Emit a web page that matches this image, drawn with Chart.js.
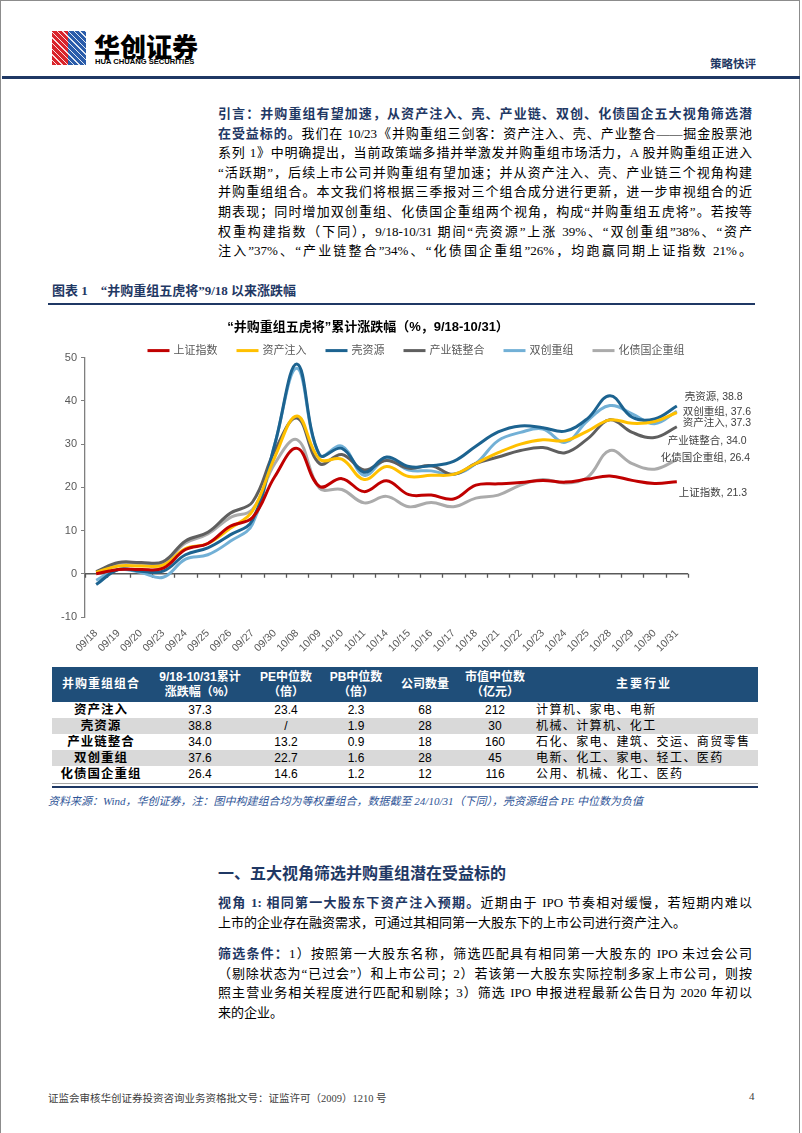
<!DOCTYPE html>
<html lang="zh-CN">
<head>
<meta charset="utf-8">
<script src="https://cdn.jsdelivr.net/npm/chart.js@4.4.1/dist/chart.umd.min.js"></script>
<style>
  html, body { margin: 0; padding: 0; }
  body { width: 802px; height: 1133px; position: relative; background: #fff; overflow: hidden;
         font-family: "Liberation Serif", "Noto Sans CJK SC", serif; color: #000; }
  .abs { position: absolute; }
  .frame { left: 0; top: 0; width: 800px; height: 1133px; border-left: 1px solid #8c8c8c; border-right: 1px solid #8c8c8c; border-top: 1px solid #8c8c8c; box-sizing: border-box; }
  .icon { left: 52px; top: 31px; width: 34px; height: 34px;
          background:
            repeating-linear-gradient(45deg, rgba(255,255,255,0) 0 3px, rgba(255,255,255,.85) 3px 4px),
            linear-gradient(to right, #d9232a 0 48%, #2a5caa 48% 100%); }
  .brand { left: 94px; top: 27px; font-family: "Noto Sans CJK SC", sans-serif; font-weight: 900; font-size: 26px; letter-spacing: 0px; }
  .brand-en { left: 95px; top: 57px; font-family: "Liberation Sans Narrow", "Liberation Sans", sans-serif; font-weight: bold; font-size: 7.6px; letter-spacing: 0px; }
  .tag { left: 710px; top: 55px; font-family: "Noto Sans CJK SC", sans-serif; font-weight: bold; font-size: 11.5px; color: #1f3864; }
  .rule { left: 2px; top: 76px; width: 798px; height: 3px; background: #1f3864; }
  .para { left: 218px; width: 534px; font-size: 13px; line-height: 19.6px; }
  .para div { text-align: justify; text-align-last: justify; white-space: nowrap; }
  .para div.last { text-align-last: left; }
  .para b { color: #1f3864; }
  .cap { left: 52px; top: 280px; font-size: 13px; font-weight: bold; color: #1f3864; }
  .caprule { left: 48px; top: 303px; width: 707px; height: 2px; background: #1f3864; }
  #chartBox { left: 48px; top: 312px; width: 720px; height: 345px; }
  table.t { left: 52px; top: 667px; width: 706px; border-collapse: collapse; table-layout: fixed;
            font-family: "Liberation Sans", "Noto Sans CJK SC", sans-serif; font-size: 12px; }
  table.t th { background: #1f4e79; color: #fff; font-weight: bold; height: 35px; line-height: 15px; padding: 0; text-align: center; }
  table.t td { height: 16px; line-height: 16px; padding: 0; text-align: center; }
  table.t tr.g td { background: #d9d9d9; }
  table.t td.n { font-weight: bold; letter-spacing: 1px; font-size: 12.5px; }
  table.t td.ind { text-align: left; padding-left: 6px; letter-spacing: 1.4px; }
  .tb1 { left: 52px; top: 783px; width: 706px; height: 1px; background: #a6a6a6; }
  .tb2 { left: 52px; top: 786px; width: 706px; height: 2px; background: #1f3864; }
  .src { left: 48px; top: 792px; font-size: 11px; font-style: italic; color: #2f5597; }
  .h1 { left: 218px; top: 860px; font-size: 16px; font-weight: bold; color: #1f3864; font-family: "Noto Sans CJK SC", sans-serif; }
  .foot { left: 48px; top: 1090px; font-size: 10.5px; color: #404040; }
  .pg { left: 749px; top: 1090px; font-size: 11px; color: #404040; }
</style>
</head>
<body>
<div class="abs frame"></div>
<div class="abs icon"></div>
<div class="abs brand">华创证券</div>
<div class="abs brand-en">HUA CHUANG SECURITIES</div>
<div class="abs tag">策略快评</div>
<div class="abs rule"></div>

<div class="abs para" style="top:104px">
  <div><b>引言：并购重组有望加速，从资产注入、壳、产业链、双创、化债国企五大视角筛选潜</b></div>
  <div><b>在受益标的。</b>我们在 10/23《并购重组三剑客：资产注入、壳、产业整合——掘金股票池</div>
  <div>系列 1》中明确提出，当前政策端多措并举激发并购重组市场活力，A 股并购重组正进入</div>
  <div>“活跃期”，后续上市公司并购重组有望加速；并从资产注入、壳、产业链三个视角构建</div>
  <div>并购重组组合。本文我们将根据三季报对三个组合成分进行更新，进一步审视组合的近</div>
  <div>期表现；同时增加双创重组、化债国企重组两个视角，构成“并购重组五虎将”。若按等</div>
  <div>权重构建指数（下同），9/18-10/31 期间“壳资源”上涨 39%、“双创重组”38%、“资产</div>
  <div>注入”37%、“产业链整合”34%、“化债国企重组”26%，均跑赢同期上证指数 21%。</div>
</div>

<div class="abs cap">图表 1&nbsp;&nbsp;&nbsp;&nbsp;“并购重组五虎将”9/18 以来涨跌幅</div>
<div class="abs caprule"></div>

<div class="abs" id="chartBox"><canvas id="myChart"></canvas></div>

<table class="abs t">
  <colgroup><col style="width:98px"><col style="width:100px"><col style="width:72px"><col style="width:68px"><col style="width:70px"><col style="width:70px"><col style="width:228px"></colgroup>
  <tr><th style="letter-spacing:1px">并购重组组合</th><th>9/18-10/31累计<br>涨跌幅（%）</th><th>PE中位数<br>（倍）</th><th>PB中位数<br>（倍）</th><th>公司数量</th><th>市值中位数<br>（亿元）</th><th style="letter-spacing:2px">主要行业</th></tr>
  <tr><td class="n">资产注入</td><td>37.3</td><td>23.4</td><td>2.3</td><td>68</td><td>212</td><td class="ind">计算机、家电、电新</td></tr>
  <tr class="g"><td class="n">壳资源</td><td>38.8</td><td>/</td><td>1.9</td><td>28</td><td>30</td><td class="ind">机械、计算机、化工</td></tr>
  <tr><td class="n">产业链整合</td><td>34.0</td><td>13.2</td><td>0.9</td><td>18</td><td>160</td><td class="ind">石化、家电、建筑、交运、商贸零售</td></tr>
  <tr class="g"><td class="n">双创重组</td><td>37.6</td><td>22.7</td><td>1.6</td><td>28</td><td>45</td><td class="ind">电新、化工、家电、轻工、医药</td></tr>
  <tr><td class="n">化债国企重组</td><td>26.4</td><td>14.6</td><td>1.2</td><td>12</td><td>116</td><td class="ind">公用、机械、化工、医药</td></tr>
</table>
<div class="abs tb1"></div>
<div class="abs tb2"></div>
<div class="abs src">资料来源：Wind，华创证券，注：图中构建组合均为等权重组合，数据截至 24/10/31（下同），壳资源组合 PE 中位数为负值</div>

<div class="abs h1">一、五大视角筛选并购重组潜在受益标的</div>

<div class="abs para" style="top:893px">
  <div><b>视角 1: 相同第一大股东下资产注入预期。</b>近期由于 IPO 节奏相对缓慢，若短期内难以</div>
  <div class="last">上市的企业存在融资需求，可通过其相同第一大股东下的上市公司进行资产注入。</div>
</div>
<div class="abs para" style="top:944px">
  <div><b>筛选条件：</b>1）按照第一大股东名称，筛选匹配具有相同第一大股东的 IPO 未过会公司</div>
  <div>（剔除状态为“已过会”）和上市公司；2）若该第一大股东实际控制多家上市公司，则按</div>
  <div>照主营业务相关程度进行匹配和剔除；3）筛选 IPO 申报进程最新公告日为 2020 年初以</div>
  <div class="last">来的企业。</div>
</div>

<div class="abs foot">证监会审核华创证券投资咨询业务资格批文号：证监许可（2009）1210 号</div>
<div class="abs pg">4</div>

<script>
// 交易日
const labels = ['09/18','09/19','09/20','09/23','09/24','09/25','09/26','09/27','09/30','10/08',
  '10/09','10/10','10/11','10/14','10/15','10/16','10/17','10/18','10/21','10/22',
  '10/23','10/24','10/25','10/28','10/29','10/30','10/31'];

// 累计涨跌幅 %
const shIndex = [0, 1.0, 1.0, 1.3, 5.6, 7.0, 11.0, 13.0, 22.5, 29.0, 20.2, 22.0, 19.0, 21.5,
  18.3, 18.2, 17.3, 20.5, 20.8, 21.1, 21.6, 21.2, 21.9, 22.6, 21.6, 20.9, 21.3];
const assetInjection = [0.3, 1.8, 1.8, 2.0, 5.8, 7.0, 10.5, 14.5, 27.0, 36.5, 26.5, 26.5, 21.8, 24.8,
  22.5, 22.8, 23.0, 25.5, 28.0, 30.0, 31.0, 30.8, 33.0, 35.6, 34.8, 35.2, 37.3];
const shellRes = [-2.5, 1.0, 0.6, 0.6, 4.4, 6.0, 9.0, 12.4, 30.0, 48.5, 27.5, 29.0, 23.5, 27.0,
  24.8, 25.0, 26.0, 29.5, 32.8, 34.2, 33.8, 33.0, 35.9, 41.2, 36.2, 35.8, 38.8];
const chainIntegration = [0.5, 2.6, 2.6, 2.8, 7.6, 9.6, 14.0, 16.6, 28.5, 36.0, 25.5, 27.6, 24.0, 26.2,
  24.4, 25.0, 23.0, 25.5, 27.0, 28.5, 29.2, 28.0, 31.2, 35.6, 32.7, 31.5, 34.0];
const dualInnovation = [-1.5, 1.0, 0.3, -0.8, 3.4, 4.4, 7.5, 11.5, 30.0, 47.5, 27.5, 29.5, 22.8, 26.5,
  24.0, 23.8, 23.0, 25.5, 30.8, 32.7, 33.5, 30.4, 35.4, 38.9, 37.0, 34.7, 37.6];
const debtSoe = [0.3, 2.4, 2.4, 2.6, 7.1, 9.2, 13.0, 14.9, 25.5, 31.0, 19.8, 19.5, 16.4, 17.9,
  15.5, 16.5, 15.5, 17.5, 18.2, 20.5, 21.8, 21.0, 22.3, 28.5, 25.5, 24.2, 26.4];

const seriesNames = ['上证指数', '资产注入', '壳资源', '产业链整合', '双创重组', '化债国企重组'];

const FONT = '"Liberation Sans", "Noto Sans CJK SC", sans-serif';

function line(name, values, color, dx, dy) {
  return {
    label: name,
    data: values,
    borderColor: color,
    backgroundColor: color,
    borderWidth: 3,
    pointRadius: 0,
    tension: 0.4,
    fill: false,
    labelDx: dx,
    labelDy: dy
  };
}

const data = {
  labels: labels,
  datasets: [
    line(seriesNames[0], shIndex, '#c00000', 2, 11),
    line(seriesNames[1], assetInjection, '#ffc000', 6, 11),
    line(seriesNames[2], shellRes, '#1c6390', 8, -9),
    line(seriesNames[3], chainIntegration, '#5f5f5f', -9, 14),
    line(seriesNames[4], dualInnovation, '#72b0d6', 6, 1),
    line(seriesNames[5], debtSoe, '#ababab', -16, -2)
  ]
};

// 0 轴线 + 刻度
const zeroAxis = {
  id: 'zeroAxis',
  beforeDatasetsDraw(chart) {
    const {ctx, chartArea, scales: {x, y}} = chart;
    const y0 = y.getPixelForValue(0);
    ctx.save();
    ctx.strokeStyle = '#595959';
    ctx.lineWidth = 1.3;
    ctx.beginPath();
    ctx.moveTo(chartArea.left, y0);
    ctx.lineTo(chartArea.right, y0);
    for (let i = 0; i <= chart.data.labels.length; i++) {
      const px = Math.round(x.getPixelForValue(i - 0.5)) + 0.5;
      ctx.moveTo(px, y0);
      ctx.lineTo(px, y0 + 4);
    }
    ctx.stroke();
    ctx.restore();
  }
};

// 图例
const lineLegend = {
  id: 'lineLegend',
  afterDraw(chart) {
    const {ctx, chartArea} = chart;
    const sets = chart.data.datasets;
    ctx.save();
    ctx.font = '11px ' + FONT;
    const sym = 22, gap = 4, space = 19;
    let total = 0;
    sets.forEach((d, i) => {
      total += sym + gap + ctx.measureText(d.label).width + (i < sets.length - 1 ? space : 0);
    });
    let cx = chart.width / 2 + 8 - total / 2;
    const cy = chartArea.top - 7;
    ctx.textBaseline = 'middle';
    sets.forEach(d => {
      ctx.strokeStyle = d.borderColor;
      ctx.lineWidth = 3;
      ctx.beginPath();
      ctx.moveTo(cx, cy);
      ctx.lineTo(cx + sym, cy);
      ctx.stroke();
      cx += sym + gap;
      ctx.fillStyle = '#595959';
      ctx.fillText(d.label, cx, cy);
      cx += ctx.measureText(d.label).width + space;
    });
    ctx.restore();
  }
};

// 末端数据标签
const endLabels = {
  id: 'endLabels',
  afterDatasetsDraw(chart) {
    const {ctx} = chart;
    ctx.save();
    ctx.font = '10.5px ' + FONT;
    ctx.fillStyle = '#404040';
    ctx.textBaseline = 'middle';
    chart.data.datasets.forEach((d, i) => {
      const meta = chart.getDatasetMeta(i);
      const pt = meta.data[meta.data.length - 1];
      const v = d.data[d.data.length - 1];
      ctx.fillText(d.label + ', ' + v.toFixed(1), pt.x + d.labelDx, pt.y + d.labelDy);
    });
    ctx.restore();
  }
};

const config = {
  type: 'line',
  data: data,
  options: {
    responsive: true,
    maintainAspectRatio: false,
    animation: false,
    layout: { padding: { left: 0, right: 80, top: 0, bottom: 0 } },
    scales: {
      x: {
        offset: true,
        grid: { display: false },
        border: { display: false },
        ticks: {
          color: '#595959',
          font: { family: FONT, size: 10.5 },
          minRotation: 45,
          maxRotation: 45,
          autoSkip: false,
          padding: 2
        },
        afterFit(scale) { scale.height = 40; }
      },
      y: {
        min: -10,
        max: 50,
        ticks: {
          stepSize: 10,
          color: '#595959',
          font: { family: FONT, size: 11 },
          padding: 4
        },
        grid: { drawOnChartArea: false, tickLength: 4, color: '#7f7f7f' },
        border: { display: true, color: '#7f7f7f', width: 1.3 },
        afterFit(scale) { scale.width = 37; }
      }
    },
    plugins: {
      legend: { display: false },
      tooltip: { enabled: false },
      title: {
        display: true,
        text: '“并购重组五虎将”累计涨跌幅（%，9/18-10/31）',
        color: '#000',
        font: { family: FONT, size: 13, weight: 'bold' },
        padding: { top: 8, bottom: 22 }
      }
    }
  },
  plugins: [zeroAxis, lineLegend, endLabels]
};

const myChart = new Chart(document.getElementById('myChart'), config);
</script>
</body>
</html>
